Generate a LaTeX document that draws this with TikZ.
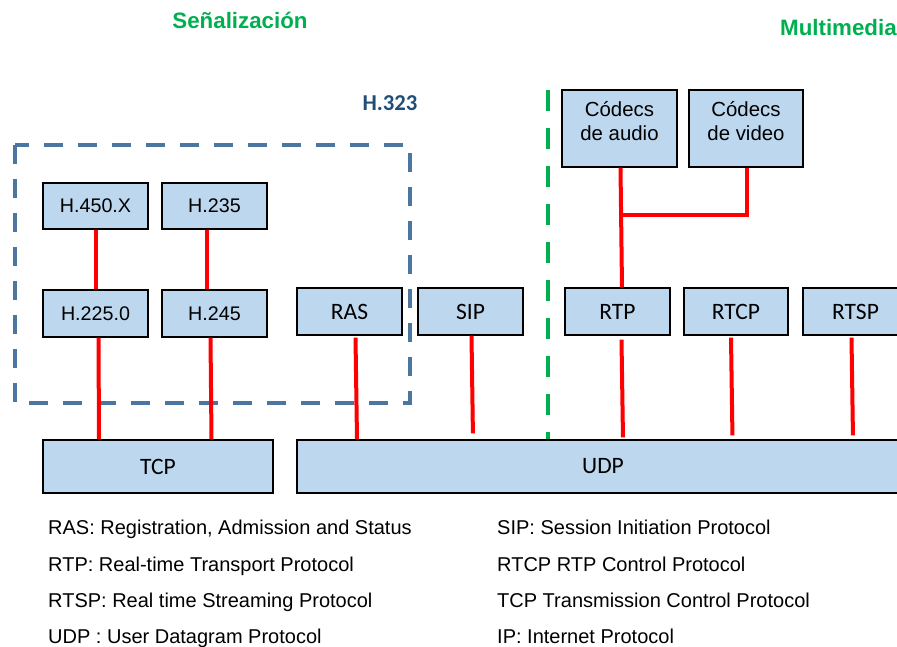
\documentclass[tikz,border=0pt]{standalone}
\usepackage{fontspec}
\setmainfont{Liberation Sans}
\newfontfamily\calib{Carlito}
\usetikzlibrary{positioning}

\definecolor{boxfill}{HTML}{BDD7EE}
\definecolor{linkred}{HTML}{FF0000}
\definecolor{h323blue}{HTML}{4A76A0}
\definecolor{h323text}{HTML}{1F4E79}
\definecolor{titlegreen}{HTML}{00B050}

\newcommand{\twolines}[2]{\raisebox{5pt}[\height][\depth]{\begin{tabular}{@{}c@{}}#1\\#2\end{tabular}}}

\begin{document}
\begin{tikzpicture}[x=1pt,y=-1pt,
  proto/.style={draw=black,line width=1.4pt,fill=boxfill,inner sep=0pt,
    minimum width=105pt,minimum height=47pt,align=center,
    font=\fontsize{19.7}{24}\selectfont},
  protoc/.style={proto,font=\calib\fontsize{23.5}{28}\selectfont},
  codec/.style={proto,minimum width=115pt,minimum height=77pt,
    font=\fontsize{20.4}{24}\selectfont},
  link/.style={draw=linkred,line width=4pt},
  h323box/.style={draw=h323blue,line width=4.5pt,dash pattern=on 19pt off 15pt},
  divider/.style={draw=titlegreen,line width=4.5pt,dash pattern=on 21pt off 17pt},
  title/.style={text=titlegreen,font=\bfseries\fontsize{22.3}{26}\selectfont,inner sep=0pt},
  legend/.style={anchor=base west,inner sep=0pt,font=\fontsize{20}{24}\selectfont}]
\useasboundingbox (0,0) rectangle (897,646);
\clip (0,0) rectangle (897,646);
\fill[white] (0,0) rectangle (897,646);

\node[title] (senal) at (240,20) {Señalización};
\node[title,anchor=west] (multi) at (780,28) {Multimedia};
\node[text=h323text,font=\calib\bfseries\fontsize{22.7}{26}\selectfont,inner sep=0pt] (h323) at (390,103) {H.323};

\draw[h323box] (15,145) rectangle (410,403);
\draw[divider] (548,90) -- (548,442);

\node[proto,minimum height=46pt] (h450) at (95.5,206) {H.450.X};
\node[proto,minimum height=46pt] (h235) at (214.5,206) {H.235};
\node[proto] (h2250) at (95.5,313.5) {H.225.0};
\node[proto] (h245) at (214.5,313.5) {H.245};
\node[protoc] (ras) at (349.5,311.5) {RAS};
\node[protoc] (sip) at (470.5,311.5) {SIP};
\node[protoc] (rtp) at (617.5,311.5) {RTP};
\node[protoc,minimum width=104pt] (rtcp) at (736,311.5) {RTCP};
\node[protoc] (rtsp) at (855.5,311.5) {RTSP};
\node[codec] (caudio) at (619.5,128.5) {\twolines{Códecs}{de audio}};
\node[codec,minimum width=114pt] (cvideo) at (746,128.5) {\twolines{Códecs}{de video}};
\node[protoc,minimum width=230pt,minimum height=53pt] (tcp) at (158,466.5) {TCP};
\node[protoc,minimum width=612pt,minimum height=53pt] (udp) at (603,466.5) {UDP};

\coordinate (cjoin) at ([xshift=1.5pt]caudio.south |- 0,214.5);

\draw[link] (h450.south) -- (h2250.north);
\draw[link] ([xshift=-7.5pt]h235.south) -- ([xshift=-7.5pt]h245.north);
\draw[link] ([xshift=3pt]h2250.south) -- ([xshift=3.5pt]h2250.south |- tcp.north);
\draw[link] ([xshift=-4pt]h245.south) -- ([xshift=-3pt]h245.south |- tcp.north);
\draw[link] ([xshift=6pt,yshift=-2pt]ras.south) -- ([xshift=7.5pt]ras.south |- udp.north);
\draw[link,shorten >=6pt] ([xshift=1pt]sip.south) -- ([xshift=2.5pt]sip.south |- udp.north);
\draw[link,shorten >=2pt] ([xshift=4pt,yshift=-4pt]rtp.south) -- ([xshift=5.5pt]rtp.south |- udp.north);
\draw[link,shorten >=4pt] ([xshift=-5pt,yshift=-2pt]rtcp.south) -- ([xshift=-3.5pt]rtcp.south |- udp.north);
\draw[link,shorten >=4pt] ([xshift=-4pt,yshift=-2pt]rtsp.south) -- ([xshift=-2.5pt]rtsp.south |- udp.north);
\draw[link] ([xshift=1pt]caudio.south) -- ([xshift=2.5pt]caudio.south |- rtp.north);
\draw[link] ([xshift=1pt]cvideo.south) |- (cjoin);

\node[legend] (lras) at (48,534) {RAS: Registration, Admission and Status};
\node[legend] (lrtp) at (48,571) {RTP: Real-time Transport Protocol};
\node[legend] (lrtsp) at (48,607) {RTSP: Real time Streaming Protocol};
\node[legend] (ludp) at (48,643) {UDP : User Datagram Protocol};
\node[legend] (lsip) at (497,534) {SIP: Session Initiation Protocol};
\node[legend] (lrtcp) at (497,571) {RTCP RTP Control Protocol};
\node[legend] (ltcp) at (497,607) {TCP Transmission Control Protocol};
\node[legend] (lip) at (497,643) {IP: Internet Protocol};
\end{tikzpicture}
\end{document}
